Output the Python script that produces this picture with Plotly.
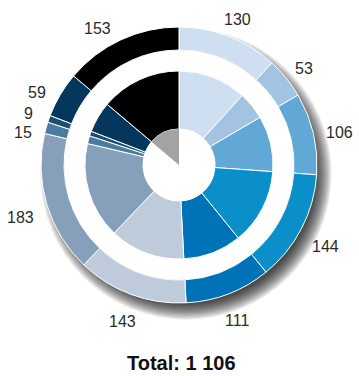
import math
import plotly.graph_objects as go

# Employees per sector (outer ring, inner pie and centre share the same values)
sectors = ["A", "B", "C", "D", "E", "F", "G", "H", "I", "J", "K"]
values = [130, 53, 106, 144, 111, 143, 183, 15, 9, 59, 153]
colors = ["#cddff0", "#a2c3e2", "#62a8d7", "#0a8fc9", "#0073b8", "#bdcbda",
          "#86a0bb", "#4a7c9f", "#1c4e74", "#05375c", "#000000"]
center_colors = ["#ffffff"] * (len(values) - 1) + ["#a3a3a3"]
title_text = "per sector in 2006"
total_text = "Total: 1 106"

W, H = 359, 376
CX, CY = 179, 165          # pie centre in pixels
R_OUT, R_RING_IN, R_IN, R_CORE = 138, 115, 94, 36
LABEL_CY = CY + 5          # label ring sits slightly lower than the pie
R_LABEL = 150              # distance from label-ring centre to the nearest edge of a label
# small angular nudges (degrees) so neighbouring labels don't collide
label_nudge = {7: -2, 8: 1, 9: -2, 10: -5}
FONT = "Liberation Sans, Arial, sans-serif"
FS = 16


def domain(r):
    return dict(x=[(CX - r) / W, (CX + r) / W],
                y=[1 - (CY + r) / H, 1 - (CY - r) / H])


fig = go.Figure()

common = dict(labels=sectors, values=values, sort=False, direction="clockwise",
              rotation=0, textinfo="none", hoverinfo="label+value", showlegend=False)

# outer ring
fig.add_trace(go.Pie(
    hole=R_RING_IN / R_OUT, domain=domain(R_OUT),
    marker=dict(colors=colors, line=dict(color="white", width=1)), **common))

# inner pie
fig.add_trace(go.Pie(
    hole=R_CORE / R_IN, domain=domain(R_IN),
    marker=dict(colors=colors, line=dict(color="white", width=1)), **common))

# centre disc, last sector highlighted in grey
fig.add_trace(go.Pie(
    domain=domain(R_CORE),
    marker=dict(colors=center_colors, line=dict(color="white", width=0)), **common))

# soft drop shadow behind the ring, then a white disc filling the gap
shapes = []
sx, sy = CX + 7, CY + 9
for i in range(14):
    r = 130 + i * 1.2
    shapes.append(dict(
        type="circle", xref="paper", yref="paper", layer="below",
        x0=(sx - r) / W, x1=(sx + r) / W,
        y0=1 - (sy + r) / H, y1=1 - (sy - r) / H,
        fillcolor="rgba(0,0,0,0.08)", line=dict(width=0),
    ))
shapes.append(dict(
    type="circle", xref="paper", yref="paper", layer="below",
    x0=(CX - R_RING_IN) / W, x1=(CX + R_RING_IN) / W,
    y0=1 - (CY + R_RING_IN) / H, y1=1 - (CY - R_RING_IN) / H,
    fillcolor="white", line=dict(width=0),
))

# value labels around the ring, at each slice's mid-angle, pushed out by half their box
annotations = []
total = sum(values)
cum = 0
for i, v in enumerate(values):
    mid = (cum + v / 2) / total * 360 + label_nudge.get(i, 0)
    cum += v
    a = math.radians(mid)
    s, c = math.sin(a), math.cos(a)
    half_w = max(len(str(v)), 2) * FS * 0.56 / 2
    half_h = 7
    d = R_LABEL + half_w * abs(s) + half_h * abs(c)
    px = CX + d * s
    py = LABEL_CY - d * c
    annotations.append(dict(
        text=str(v), xref="paper", yref="paper", x=px / W, y=1 - py / H,
        xanchor="center", yanchor="middle", showarrow=False,
        font=dict(family=FONT, size=FS, color="#2a2a2a")))

annotations.append(dict(
    text=f"<b>{total_text}</b>", xref="paper", yref="paper",
    x=181 / W, y=1 - 363 / H, xanchor="center", yanchor="middle", showarrow=False,
    font=dict(family=FONT, size=20, color="#111")))
annotations.append(dict(
    text=f"<b>{title_text}</b>", xref="paper", yref="paper",
    x=6 / W, y=1 - 1 / H, xanchor="left", yanchor="bottom", showarrow=False,
    font=dict(family=FONT, size=18, color="#111")))

fig.update_layout(
    width=W, height=H,
    margin=dict(l=0, r=0, t=0, b=0),
    paper_bgcolor="white", plot_bgcolor="white",
    shapes=shapes, annotations=annotations,
)

fig.write_html("out.html")
